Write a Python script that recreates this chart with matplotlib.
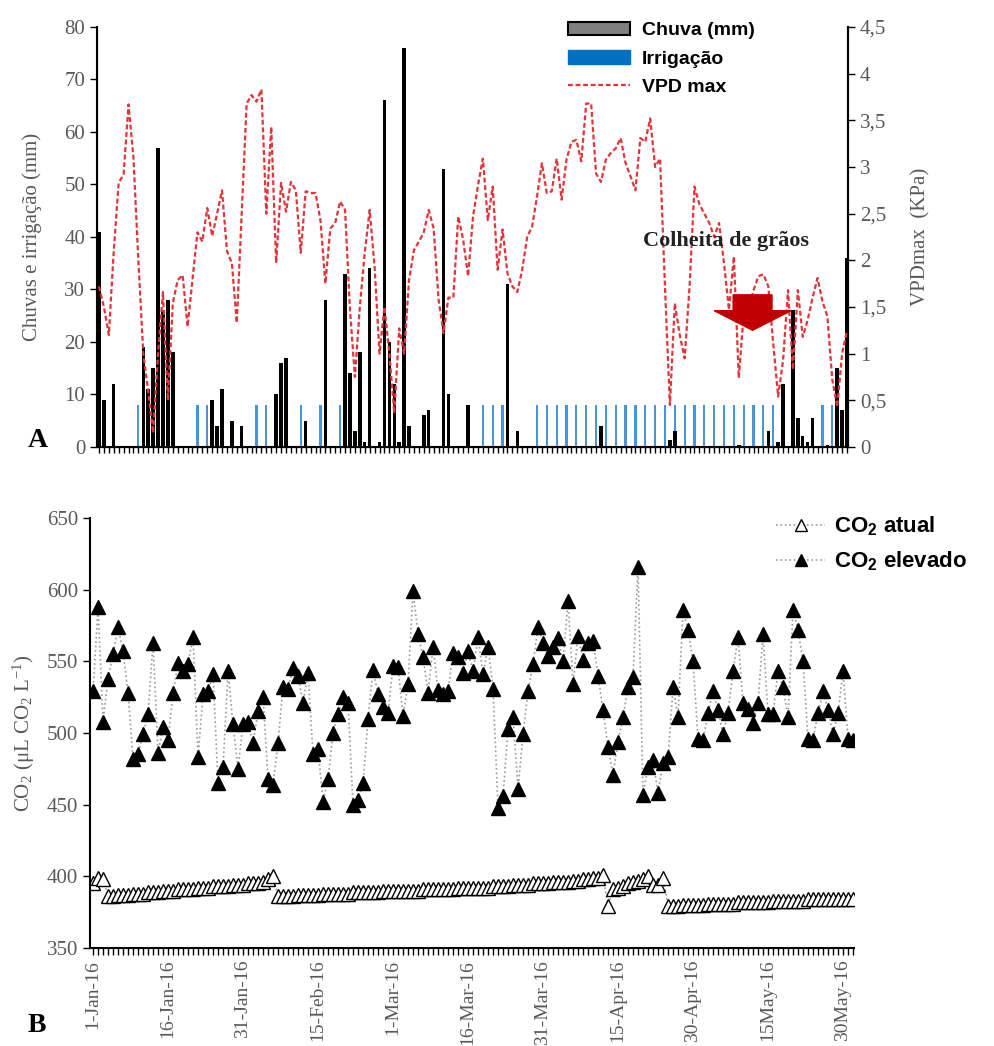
import numpy as np
import matplotlib.pyplot as plt
from matplotlib.patches import Patch, FancyArrow
from matplotlib.lines import Line2D
from matplotlib.ticker import FuncFormatter

plt.rcParams['font.family'] = ['Liberation Serif', 'DejaVu Serif']

# dias desde 1-Jan-16
days = np.arange(153)

# chuva (mm)
rain_days = [0, 1, 3, 9, 10, 11, 12, 13, 14, 15, 23, 24, 25, 27, 29, 36, 37, 38, 42, 46,
             50, 51, 52, 53, 54, 55, 57, 58, 59, 60, 61, 62, 63, 66, 67, 70, 71, 75, 83, 85,
             102, 116, 117, 130, 136, 138, 139, 141, 142, 143, 144, 145, 148, 150, 151, 152]
rain_mm = [41, 9, 12, 19, 11, 15, 57, 26, 28, 18, 9, 4, 11, 5, 4, 10, 16, 17, 5, 28,
           33, 14, 3, 18, 1, 34, 1, 66, 20, 12, 1, 76, 4, 6, 7, 53, 10, 8, 31, 3,
           4, 1.3, 3, 0.3, 3, 1, 12, 26, 5.5, 2, 1, 5.5, 0.4, 15, 7, 36]

# irrigacao (mm)
irrig_days = [8, 20, 22, 32, 34, 41, 45, 49, 78, 80, 82, 89, 91, 93, 95, 97, 99, 101, 103,
              105, 107, 109, 111, 113, 115, 117, 119, 121, 123, 125, 127, 129, 131, 133,
              135, 137, 147, 149]
irrig_mm = [8] * len(irrig_days)

# VPD max (KPa)
vpd = [1.72, 1.5, 1.2, 2.1, 2.83, 2.92, 3.67, 3.1, 2.0, 1.0,
       0.6, 0.15, 1.0, 1.66, 0.5, 1.54, 1.79, 1.84, 1.29, 1.8,
       2.3, 2.2, 2.56, 2.26, 2.5, 2.75, 2.1, 1.97, 1.33, 2.5,
       3.68, 3.77, 3.7, 3.83, 2.5, 3.43, 1.97, 2.83, 2.52, 2.84,
       2.75, 2.08, 2.74, 2.72, 2.72, 2.43, 1.75, 2.34, 2.4, 2.63,
       2.54, 1.47, 0.75, 1.5, 2.08, 2.54, 1.93, 1.0, 1.5, 1.0,
       0.36, 1.27, 1.0, 1.79, 2.11, 2.2, 2.3, 2.54, 2.34, 1.58,
       1.22, 1.6, 1.6, 2.47, 2.22, 1.83, 2.47, 2.8, 3.09, 2.43,
       2.79, 1.9, 2.33, 1.86, 1.72, 1.66, 1.9, 2.25, 2.36, 2.68,
       3.04, 2.72, 2.74, 3.09, 2.65, 3.08, 3.27, 3.29, 3.06, 3.68,
       3.68, 2.93, 2.84, 3.08, 3.15, 3.2, 3.31, 3.04, 2.9, 2.75,
       3.31, 3.27, 3.52, 3.0, 3.09, 1.72, 0.45, 1.54, 1.2, 0.95,
       1.72, 2.79, 2.6, 2.5, 2.4, 2.25, 2.4, 1.97, 1.47, 2.04,
       0.74, 1.43, 1.47, 1.68, 1.83, 1.85, 1.72, 1.11, 0.54, 0.93,
       1.68, 0.83, 1.68, 1.18, 1.36, 1.6, 1.81, 1.56, 1.4, 0.72,
       0.43, 1.0, 1.25]

# CO2 atual
co2_atual = [395, 399, 398,
             386, 386, 387, 387, 387, 388, 388, 388, 389, 389, 389, 390, 390, 390, 391, 391,
             391, 391, 392, 392, 392, 393, 393, 393, 393, 394, 394, 394, 395, 395, 395, 396,
             398, 400,
             386, 386, 386, 386, 387, 387, 387, 387, 387, 388, 388, 388,
             388, 388, 388, 389, 389, 389, 389, 389, 389, 390, 390, 390,
             390, 390, 390, 390, 390, 391, 391, 391, 391, 391, 391, 391, 392, 392, 392, 392, 392,
             392, 392, 393, 393, 393, 393, 394, 394, 394, 394, 395, 395, 395, 395, 396, 396, 396,
             396, 397, 397, 398, 398, 399, 399, 401,
             379, 391, 392, 393, 395, 396, 397, 398, 400, 394, 394, 399,
             379, 379, 379, 380, 380, 380, 380, 380, 381, 381, 381, 381, 381, 381,
             382, 382, 382, 382, 382, 382, 382, 383, 383, 383, 383, 383, 383, 383,
             384, 384, 384, 384, 384, 384, 384, 384, 384, 384]

# CO2 elevado
co2_elev = [529, 588, 508, 538, 555, 574, 557, 528, 482, 485,
            499, 513, 563, 486, 504, 495, 528, 549, 543, 548,
            567, 483, 527, 529, 541, 465, 476, 543, 506, 475,
            506, 508, 493, 515, 525, 468, 464, 493, 532, 531,
            545, 540, 521, 542, 485, 489, 452, 468, 500, 513,
            525, 521, 450, 453, 465, 510, 544, 527, 518, 514,
            547, 546, 512, 534, 599, 569, 553, 528, 560, 530,
            527, 529, 556, 553, 542, 557, 543, 567, 541, 560,
            531, 448, 456, 503, 511, 461, 499, 529, 548, 574,
            563, 554, 560, 566, 550, 592, 534, 568, 551, 563,
            564, 540, 516, 490, 471, 494, 511, 532, 539, 616,
            457, 476, 481, 458, 479, 483, 532, 511, 586, 572,
            550, 496, 495, 514, 529, 516, 499, 514, 543, 567,
            521, 517, 507, 521, 569, 513, 513, 543, 532, 511,
            586, 572, 550, 496, 495, 514, 529, 516, 499, 514,
            543, 496, 495]

date_ticks = [0, 15, 30, 45, 60, 75, 90, 105, 120, 135, 150]
date_labels = ['1-Jan-16', '16-Jan-16', '31-Jan-16', '15-Feb-16', '1-Mar-16', '16-Mar-16',
               '31-Mar-16', '15-Apr-16', '30-Apr-16', '15May-16', '30May-16']

grey = '#595959'
fig = plt.figure(figsize=(9.95, 10.46), dpi=100)

# ---------------- painel A ----------------
ax1 = fig.add_axes([0.0975, 0.5727, 0.7548, 0.4015])
ax1.bar(rain_days, rain_mm, width=0.7, color='black', zorder=3)
ax1.bar(irrig_days, irrig_mm, width=0.45, color='#4a94d8', zorder=2)
ax1.set_xlim(-0.4, 152.2)
ax1.set_ylim(0, 80)
ax1.set_yticks(range(0, 81, 10))
ax1.set_xticks(days)
ax1.set_xticklabels([])
ax1.tick_params(axis='x', length=4, width=1, direction='out')
ax1.tick_params(axis='y', length=5, width=1, labelsize=15, labelcolor=grey)
ax1.spines['top'].set_visible(False)
for s in ['left', 'bottom', 'right']:
    ax1.spines[s].set_linewidth(1.5)
ax1.set_ylabel('Chuvas e irrigação (mm)', fontsize=15, color=grey)
ax1.yaxis.set_label_coords(-0.073, 0.5)

ax2 = ax1.twinx()
ax2.plot(days, vpd, color='#e0353a', ls=(0, (2.2, 1.2)), lw=1.6, zorder=4)
ax2.set_ylim(0, 4.5)
ax2.set_yticks(np.arange(0, 4.51, 0.5))
ax2.yaxis.set_major_formatter(FuncFormatter(lambda v, p: f'{v:g}'.replace('.', ',')))
ax2.tick_params(axis='y', length=5, width=1, labelsize=15, labelcolor=grey)
ax2.spines['top'].set_visible(False)
ax2.spines['right'].set_linewidth(1.5)
ax2.set_ylabel('VPDmax  (KPa)', fontsize=15, color=grey)
ax2.yaxis.set_label_coords(1.084, 0.5)

# seta da colheita
arrow = FancyArrow(132.8, 1.63, 0, -0.38, width=7.9, head_width=15.6, head_length=0.21,
                   length_includes_head=True, color='#c00000', zorder=6)
ax2.add_patch(arrow)
ax2.text(127.4, 2.21, 'Colheita de grãos', fontsize=16, fontweight='bold',
         ha='center', va='center', color='#222222', zorder=7)

handles1 = [Patch(facecolor='#808080', edgecolor='black', linewidth=1.5),
            Patch(facecolor='#0070c0', edgecolor='#0070c0'),
            Line2D([], [], color='#e0353a', ls=(0, (2.2, 1.2)), lw=1.6)]
fig.legend(handles1, ['Chuva (mm)', 'Irrigação', 'VPD max'], loc='upper left',
           bbox_to_anchor=(0.553, 0.996), frameon=False,
           prop=dict(family='Liberation Sans', weight='bold', size=14),
           handlelength=3.2, handleheight=0.7, labelspacing=0.55, handletextpad=0.6)

fig.text(0.028, 0.579, 'A', fontsize=20, fontweight='bold', va='center')

# ---------------- painel B ----------------
ax3 = fig.add_axes([0.0905, 0.0937, 0.7678, 0.4111])
ax3.plot(days, co2_atual, ls=':', color='#9a9a9a', lw=1.2, marker='^', ms=10,
         mfc='white', mec='black', mew=1.0, label=r'CO$\mathregular{_2}$ atual')
ax3.plot(days, co2_elev, ls=':', color='#9a9a9a', lw=1.2, marker='^', ms=10,
         mfc='black', mec='black', label=r'CO$\mathregular{_2}$ elevado')
ax3.set_xlim(-0.6, 152.2)
ax3.set_ylim(350, 650)
ax3.set_yticks(range(350, 651, 50))
ax3.set_xticks(date_ticks)
ax3.set_xticklabels(date_labels, rotation=90)
ax3.set_xticks(days, minor=True)
ax3.tick_params(axis='x', which='both', length=5, width=1, labelsize=14, labelcolor=grey)
ax3.tick_params(axis='y', length=5, width=1, labelsize=15, labelcolor=grey)
ax3.spines['top'].set_visible(False)
ax3.spines['right'].set_visible(False)
for s in ['left', 'bottom']:
    ax3.spines[s].set_linewidth(1.5)
ax3.set_ylabel(r'CO$\mathregular{_2}$ (μL CO$\mathregular{_2}$ L$\mathregular{^{-1}}$)',
               fontsize=15, color=grey)
ax3.yaxis.set_label_coords(-0.069, 0.5)

fig.legend(*ax3.get_legend_handles_labels(), loc='upper left',
           bbox_to_anchor=(0.76, 0.527), frameon=False,
           prop=dict(family='Liberation Sans', weight='bold', size=16),
           handlelength=2.2, labelspacing=0.5, handletextpad=0.4, markerscale=0.8)

fig.text(0.028, 0.02, 'B', fontsize=20, fontweight='bold', va='center')

plt.savefig('out.png', dpi=100)
